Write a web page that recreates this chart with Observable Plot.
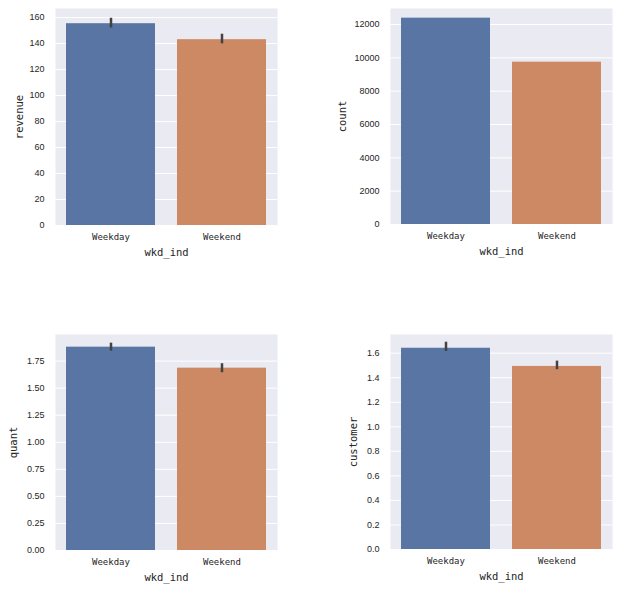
<!DOCTYPE html>
<html><head><meta charset="utf-8">
<script src="https://cdn.jsdelivr.net/npm/d3@7"></script>
<script src="https://cdn.jsdelivr.net/npm/@observablehq/plot@0.6"></script>
<style>
body{margin:0;background:#fff}
#wrap{position:relative;width:619px;height:590px;background:#fff}
.cell{position:absolute}
</style>
</head><body><div id="wrap"></div>
<script>
const categories = ["Weekday", "Weekend"];
const xLabel = "wkd_ind";

const revenue = [155.3, 143.0];
const revenueLow = [152.0, 139.8];
const revenueHigh = [159.5, 147.2];
const revenueTicks = [0, 20, 40, 60, 80, 100, 120, 140, 160];
const revenueMax = 167;

const count = [12380, 9740];
const countTicks = [0, 2000, 4000, 6000, 8000, 10000, 12000];
const countMax = 12960;

const quant = [1.879, 1.685];
const quantLow = [1.842, 1.643];
const quantHigh = [1.916, 1.726];
const quantTicks = [0, 0.25, 0.5, 0.75, 1.0, 1.25, 1.5, 1.75];
const quantMax = 1.996;

const customer = [1.640, 1.492];
const customerLow = [1.614, 1.465];
const customerHigh = [1.689, 1.535];
const customerTicks = [0, 0.2, 0.4, 0.6, 0.8, 1.0, 1.2, 1.4, 1.6];
const customerMax = 1.752;

const wrap = document.getElementById("wrap");

function panel({left, top, width, height, mL, mT, mR, mB, yLabel, labelDx, values, lows, highs, ticks, yMax, fmt}) {
  const rows = categories.map((c, i) => ({cat: c, value: values[i], lo: lows ? lows[i] : null, hi: highs ? highs[i] : null}));
  const marks = [
    Plot.frame({fill: "#eaeaf2", stroke: null}),
    Plot.gridY(ticks, {stroke: "#ffffff", strokeOpacity: 1, strokeWidth: 1}),
    Plot.barY(rows, {x: "cat", y: "value", fill: "cat"}),
  ];
  if (lows) marks.push(Plot.ruleX(rows, {x: "cat", y1: "lo", y2: "hi", stroke: "#424242", strokeWidth: 2.5}));
  marks.push(
    Plot.axisY(ticks, {tickSize: 0, tickPadding: 11, tickFormat: fmt, label: null, fontFamily: "Liberation Sans", fontSize: 9, fill: "#262626"}),
    Plot.axisX({tickSize: 0, tickPadding: 8, label: null, fontFamily: "DejaVu Sans Mono", fontSize: 9, fill: "#262626"}),
    Plot.text([yLabel], {text: d => d, frameAnchor: "left", rotate: -90, dx: -labelDx, lineAnchor: "middle", textAnchor: "middle", fontFamily: "DejaVu Sans Mono", fontSize: 10.5, fill: "#262626"}),
    Plot.text([xLabel], {text: d => d, frameAnchor: "bottom", dy: 27, lineAnchor: "middle", textAnchor: "middle", fontFamily: "DejaVu Sans Mono", fontSize: 10.5, fill: "#262626"})
  );
  const chart = Plot.plot({
    width, height,
    marginLeft: mL, marginTop: mT, marginRight: mR, marginBottom: mB,
    style: {background: "transparent", color: "#262626", overflow: "visible"},
    x: {type: "band", domain: categories, paddingInner: 0.2, paddingOuter: 0.1, label: null},
    y: {domain: [0, yMax], label: null},
    color: {domain: categories, range: ["#5875a4", "#cc8963"]},
    marks
  });
  const div = document.createElement("div");
  div.className = "cell";
  div.style.left = left + "px";
  div.style.top = top + "px";
  div.appendChild(chart);
  wrap.appendChild(div);
}

panel({left: 0, top: 0, width: 290, height: 265, mL: 55, mT: 8, mR: 13, mB: 40, yLabel: "revenue", labelDx: 36,
  values: revenue, lows: revenueLow, highs: revenueHigh, ticks: revenueTicks, yMax: revenueMax, fmt: d3.format("d")});
panel({left: 330, top: 0, width: 289, height: 265, mL: 60, mT: 8, mR: 7, mB: 41, yLabel: "count", labelDx: 48,
  values: count, lows: null, highs: null, ticks: countTicks, yMax: countMax, fmt: d3.format("d")});
panel({left: 0, top: 320, width: 290, height: 270, mL: 55, mT: 14, mR: 13, mB: 40, yLabel: "quant", labelDx: 42,
  values: quant, lows: quantLow, highs: quantHigh, ticks: quantTicks, yMax: quantMax, fmt: d3.format(".2f")});
panel({left: 330, top: 320, width: 289, height: 270, mL: 60, mT: 14, mR: 7, mB: 41, yLabel: "customer", labelDx: 37,
  values: customer, lows: customerLow, highs: customerHigh, ticks: customerTicks, yMax: customerMax, fmt: d3.format(".1f")});
</script>
</body></html>
